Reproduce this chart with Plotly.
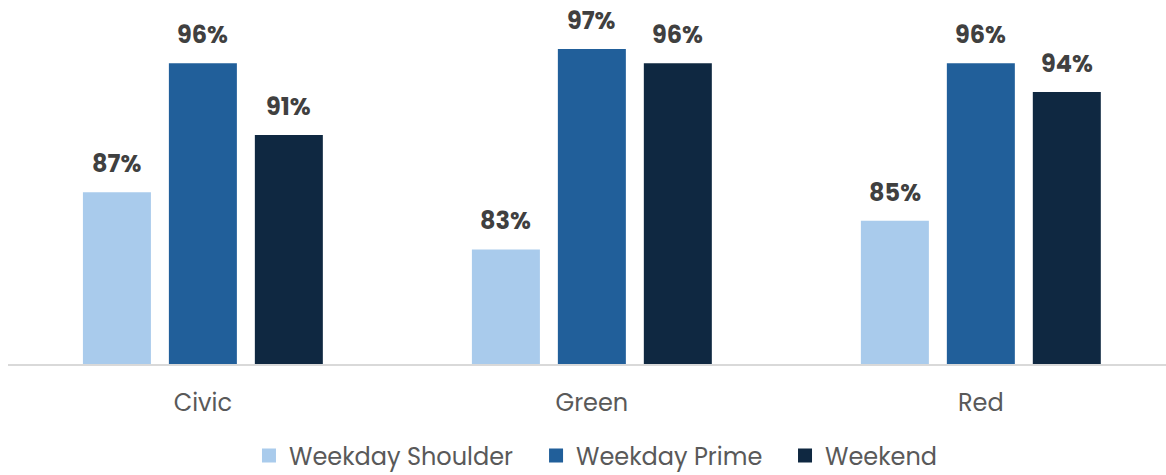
import plotly.graph_objects as go

categories = ["Civic", "Green", "Red"]
series_names = ["Weekday Shoulder", "Weekday Prime", "Weekend"]
weekday_shoulder = [87, 83, 85]
weekday_prime = [96, 97, 96]
weekend = [91, 96, 94]
colors = ["#A9CBEC", "#215F9A", "#0F2841"]

series_values = [weekday_shoulder, weekday_prime, weekend]

BARGAP = 0.337
BARGROUPGAP = 0.209
FONT = "Poppins, Open Sans, sans-serif"
legend_ids = ["legend", "legend2", "legend3"]
legend_x = [0.2081, 0.4560, 0.6710]

fig = go.Figure()
for name, vals, col, lid in zip(series_names, series_values, colors, legend_ids):
    fig.add_trace(go.Bar(
        name=name, x=categories, y=vals,
        marker=dict(color=col, line=dict(width=0)),
        hoverinfo="skip", showlegend=False,
    ))
    # legend entry with a slightly larger square swatch
    fig.add_trace(go.Scatter(
        name=name, x=[None], y=[None], mode="markers",
        marker=dict(symbol="square", size=14, color=col, line=dict(width=0)),
        legend=lid, showlegend=True, hoverinfo="skip",
    ))

# value labels above each bar
slot = (1 - BARGAP) / len(series_values)
annotations = []
for j, vals in enumerate(series_values):
    offset = (j - (len(series_values) - 1) / 2) * slot
    for i, v in enumerate(vals):
        annotations.append(dict(
            x=i + offset, y=v, xref="x", yref="y",
            text=f"<b>{v}%</b>", showarrow=False,
            yanchor="middle", yshift=28.5,
            font=dict(family=FONT, size=24, color="#404040"),
        ))

legend_common = dict(
    orientation="h", xanchor="left", y=-0.257, yanchor="middle",
    font=dict(family=FONT, size=24, color="#595959"),
    itemclick=False, itemdoubleclick=False, bgcolor="rgba(0,0,0,0)",
)
layout_legends = {}
for lid, lx in zip(legend_ids, legend_x):
    layout_legends[lid] = dict(x=lx, **legend_common)

fig.update_layout(
    width=1166, height=475,
    margin=dict(l=8, r=0, t=6, b=111, autoexpand=False),
    paper_bgcolor="white", plot_bgcolor="white",
    barmode="group", bargap=BARGAP, bargroupgap=BARGROUPGAP,
    font=dict(family=FONT, color="#595959"),
    showlegend=True,
    annotations=annotations,
    **layout_legends,
)
fig.update_xaxes(
    type="category", range=[-0.501, 2.476],
    showline=True, linecolor="#D9D9D9", linewidth=2,
    showgrid=False, zeroline=False, ticks="", ticklabelstandoff=16,
    tickfont=dict(family=FONT, size=24, color="#595959"),
    fixedrange=True, automargin=False,
)
fig.update_yaxes(range=[75, 100], visible=False, showgrid=False, zeroline=False,
                 fixedrange=True, automargin=False)

fig.write_html("out.html")
